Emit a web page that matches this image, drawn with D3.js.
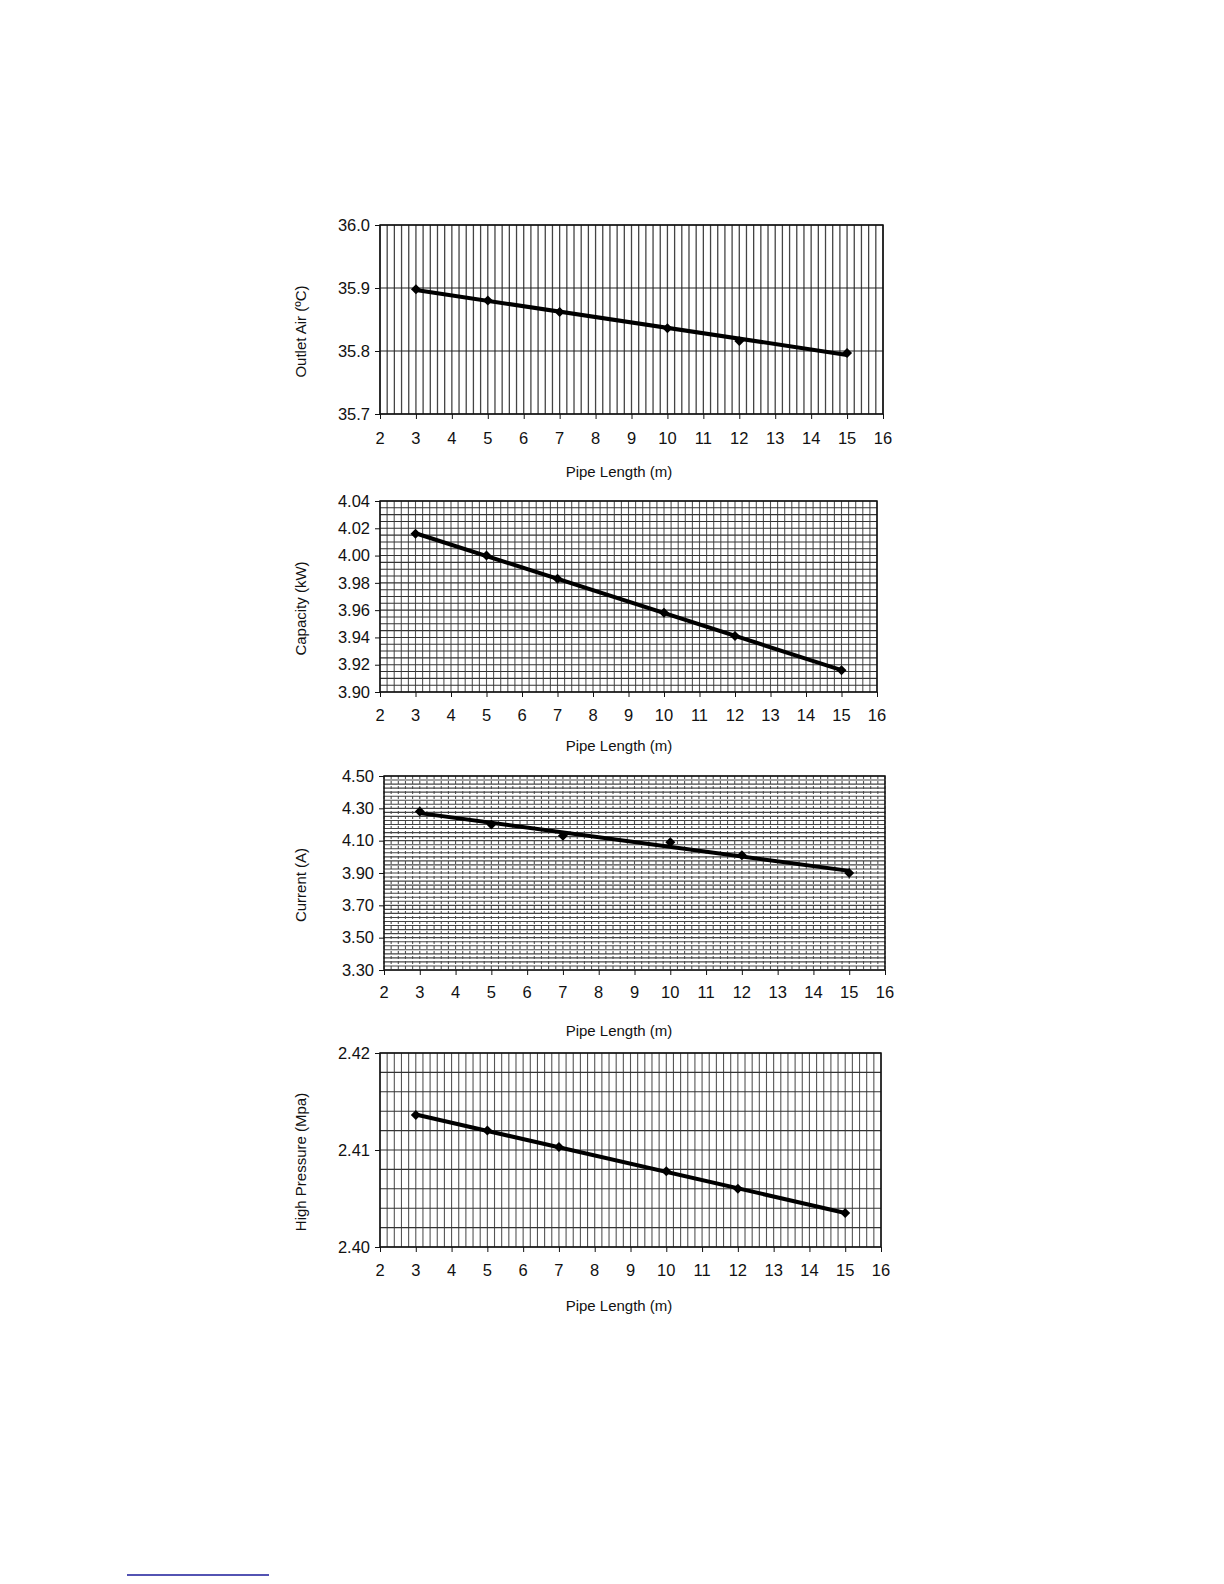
<!DOCTYPE html>
<html>
<head>
<meta charset="utf-8">
<script src="https://cdn.jsdelivr.net/npm/d3@7"></script>
<style>
  html, body { margin: 0; padding: 0; background: #fff; }
  svg { display: block; }
  text { font-family: "Liberation Sans", Arial, sans-serif; fill: #111; }
</style>
</head>
<body>
<script>
// ---- data ----
const pipeLength = [3, 5, 7, 10, 12, 15];
const xTickValues = [2, 3, 4, 5, 6, 7, 8, 9, 10, 11, 12, 13, 14, 15, 16];
const xTitle = "Pipe Length (m)";

const outletAir = [35.898, 35.880, 35.862, 35.836, 35.816, 35.797];
const outletAirTicks = [35.7, 35.8, 35.9, 36.0];

const capacity = [4.016, 4.000, 3.983, 3.958, 3.941, 3.916];
const capacityTicks = [3.90, 3.92, 3.94, 3.96, 3.98, 4.00, 4.02, 4.04];

const current = [4.28, 4.20, 4.13, 4.09, 4.01, 3.90];
const currentTicks = [3.30, 3.50, 3.70, 3.90, 4.10, 4.30, 4.50];

const highPressure = [2.4136, 2.4120, 2.4103, 2.4078, 2.4060, 2.4035];
const highPressureTicks = [2.40, 2.41, 2.42];

const yTitles = ["Outlet Air (ºC)", "Capacity (kW)", "Current (A)", "High Pressure (Mpa)"];

// ---- chart setup ----
const charts = [
  { values: outletAir, ticks: outletAirTicks, title: yTitles[0], fmt: ".1f", gridStep: 0.1,
    vColor: "#444", vWidth: 1.3, vDash: null, hColor: "#222",
    box: { left: 380, right: 883, top: 225, bottom: 414 }, labelY: 444, titleY: 477 },
  { values: capacity, ticks: capacityTicks, title: yTitles[1], fmt: ".2f", gridStep: 0.005,
    vColor: "#555", vWidth: 1.1, vDash: null, hColor: "#333",
    box: { left: 380, right: 877, top: 501, bottom: 692 }, labelY: 721, titleY: 751 },
  { values: current, ticks: currentTicks, title: yTitles[2], fmt: ".2f", gridStep: 0.025,
    vColor: "#555", vWidth: 1.1, vDash: "3,2", hColor: "#444",
    box: { left: 384, right: 885, top: 776, bottom: 970 }, labelY: 998, titleY: 1036 },
  { values: highPressure, ticks: highPressureTicks, title: yTitles[3], fmt: ".2f", gridStep: 0.002,
    vColor: "#555", vWidth: 1.1, vDash: null, hColor: "#333",
    box: { left: 380, right: 881, top: 1053, bottom: 1247 }, labelY: 1276, titleY: 1311 }
];

const svg = d3.select("body").append("svg")
  .attr("width", 1224).attr("height", 1584);
svg.append("rect").attr("width", 1224).attr("height", 1584).attr("fill", "#fff");

function linreg(xs, ys) {
  const n = xs.length;
  const mx = d3.mean(xs), my = d3.mean(ys);
  let sxy = 0, sxx = 0;
  for (let i = 0; i < n; i++) { sxy += (xs[i] - mx) * (ys[i] - my); sxx += (xs[i] - mx) ** 2; }
  const b = sxy / sxx;
  return x => my + b * (x - mx);
}

charts.forEach(c => {
  const b = c.box;
  const x = d3.scaleLinear().domain([2, 16]).range([b.left, b.right]);
  const yDom = d3.extent(c.ticks);
  const y = d3.scaleLinear().domain(yDom).range([b.bottom, b.top]);
  const g = svg.append("g");

  // vertical minor grid every 0.2
  const vGrid = d3.range(0, 71).map(i => 2 + i * 0.2);
  g.append("g").selectAll("line").data(vGrid).join("line")
    .attr("x1", d => x(d)).attr("x2", d => x(d))
    .attr("y1", b.top).attr("y2", b.bottom)
    .attr("stroke", c.vColor).attr("stroke-width", c.vWidth)
    .attr("stroke-dasharray", c.vDash);

  // horizontal grid
  const nH = Math.round((yDom[1] - yDom[0]) / c.gridStep);
  const hGrid = d3.range(0, nH + 1).map(i => yDom[0] + i * c.gridStep);
  g.append("g").selectAll("line").data(hGrid).join("line")
    .attr("x1", b.left).attr("x2", b.right)
    .attr("y1", d => y(d)).attr("y2", d => y(d))
    .attr("stroke", c.hColor).attr("stroke-width", 1.1);

  // frame
  g.append("rect").attr("x", b.left).attr("y", b.top)
    .attr("width", b.right - b.left).attr("height", b.bottom - b.top)
    .attr("fill", "none").attr("stroke", "#111").attr("stroke-width", 1.5);

  // y axis
  const yAxis = d3.axisLeft(y).tickValues(c.ticks).tickFormat(d3.format(c.fmt))
    .tickSize(5).tickPadding(5);
  const ya = g.append("g").attr("transform", `translate(${b.left},0)`).call(yAxis);
  ya.select(".domain").remove();
  ya.selectAll("line").attr("stroke", "#111");
  ya.selectAll("text").style("font-size", "16.5px").attr("fill", "#111")
    .style("font-family", "'Liberation Sans', Arial, sans-serif");

  // x axis
  const xAxis = d3.axisBottom(x).tickValues(xTickValues).tickFormat(d3.format("d"))
    .tickSize(5).tickPadding(12);
  const xa = g.append("g").attr("transform", `translate(0,${b.bottom})`).call(xAxis);
  xa.select(".domain").remove();
  xa.selectAll("line").attr("stroke", "#111");
  xa.selectAll("text").remove();
  g.append("g").selectAll("text").data(xTickValues).join("text")
    .attr("x", d => x(d)).attr("y", c.labelY)
    .attr("text-anchor", "middle").style("font-size", "16.5px")
    .text(d => d);

  // titles
  g.append("text").attr("x", 619).attr("y", c.titleY)
    .attr("text-anchor", "middle").style("font-size", "15px").text(xTitle);
  const cy = (b.top + b.bottom) / 2 + 12;
  g.append("text").attr("transform", `translate(306,${cy}) rotate(-90)`)
    .attr("text-anchor", "middle").style("font-size", "15px").text(c.title);

  // trend line
  const f = linreg(pipeLength, c.values);
  const ends = [d3.min(pipeLength), d3.max(pipeLength)];
  g.append("path")
    .datum(ends)
    .attr("d", d3.line().x(d => x(d)).y(d => y(f(d))))
    .attr("stroke", "#000").attr("stroke-width", 4).attr("fill", "none");

  // markers
  const sym = d3.symbol().type(d3.symbolSquare).size(50);
  g.append("g").selectAll("path").data(pipeLength.map((p, i) => [p, c.values[i]])).join("path")
    .attr("d", sym)
    .attr("transform", d => `translate(${x(d[0])},${y(d[1])}) rotate(45)`)
    .attr("fill", "#000");
});

// footnote rule
svg.append("line").attr("x1", 127).attr("x2", 269).attr("y1", 1575).attr("y2", 1575)
  .attr("stroke", "#1a1a9a").attr("stroke-width", 1.6);
</script>
</body>
</html>
